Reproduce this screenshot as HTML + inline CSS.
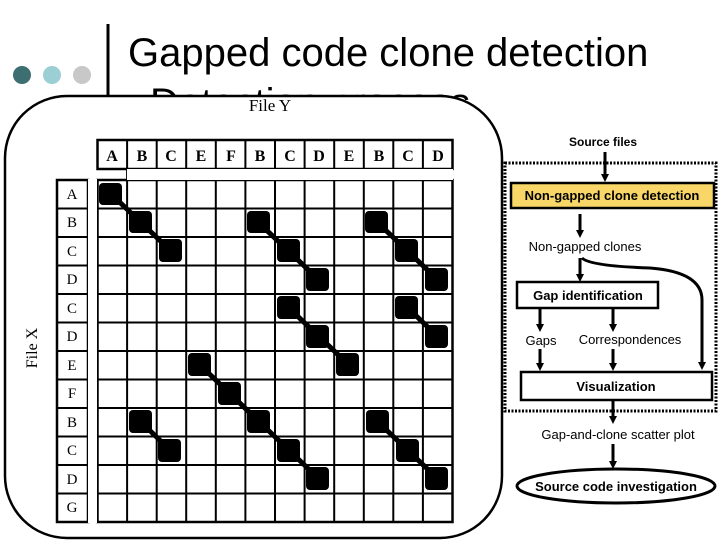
<!DOCTYPE html>
<html><head><meta charset="utf-8"><style>
html,body{margin:0;padding:0;background:#fff;}
svg{display:block;}
</style></head><body>
<svg width="720" height="540" viewBox="0 0 720 540" xmlns="http://www.w3.org/2000/svg">
<defs>
<marker id="ah" markerWidth="8" markerHeight="8" refX="4" refY="4" orient="auto" markerUnits="userSpaceOnUse">
<path d="M0,0 L8,4 L0,8 z" fill="#000"/>
</marker>
</defs>
<rect width="720" height="540" fill="#fff"/>
<circle cx="22" cy="75" r="9" fill="#3d6e72"/>
<circle cx="52" cy="75" r="9" fill="#9ccfd3"/>
<circle cx="82" cy="75" r="9" fill="#c8c8c8"/>
<line x1="108" y1="24" x2="108" y2="530" stroke="#000" stroke-width="3"/>
<text x="128" y="66" font-family="Liberation Sans, sans-serif" font-size="40">Gapped code clone detection</text>
<text x="150" y="116" font-family="Liberation Sans, sans-serif" font-size="40">Detection process</text>
<rect x="5" y="96" width="497" height="442" rx="62" ry="62" fill="#fff" stroke="#000" stroke-width="2.5"/>
<text x="270" y="111" text-anchor="middle" font-family="Liberation Serif, serif" font-size="17">File Y</text>
<text transform="translate(37,348) rotate(-90)" text-anchor="middle" font-family="Liberation Serif, serif" font-size="16">File X</text>
<g id="grid" stroke="#000" fill="none">
<rect x="97.5" y="140" width="355" height="29" stroke-width="2.5" fill="#fff"/>
<rect x="57" y="180" width="31" height="342" stroke-width="2.5" fill="#fff"/>
<rect x="97.5" y="180" width="355" height="342" stroke-width="2.5" fill="#fff"/>
</g>
<g stroke="#000" stroke-width="2">
<line x1="127.1" y1="140" x2="127.1" y2="522"/><line x1="156.7" y1="140" x2="156.7" y2="522"/>
<line x1="186.2" y1="140" x2="186.2" y2="522"/><line x1="215.8" y1="140" x2="215.8" y2="522"/>
<line x1="245.4" y1="140" x2="245.4" y2="522"/><line x1="275" y1="140" x2="275" y2="522"/>
<line x1="304.6" y1="140" x2="304.6" y2="522"/><line x1="334.2" y1="140" x2="334.2" y2="522"/>
<line x1="363.8" y1="140" x2="363.8" y2="522"/><line x1="393.3" y1="140" x2="393.3" y2="522"/>
<line x1="422.9" y1="140" x2="422.9" y2="522"/>
<rect x="127" y="169" width="326" height="11" fill="#fff" stroke="none"/>
<line x1="57" y1="208.5" x2="452.5" y2="208.5"/><line x1="57" y1="237" x2="452.5" y2="237"/>
<line x1="57" y1="265.5" x2="452.5" y2="265.5"/><line x1="57" y1="294" x2="452.5" y2="294"/>
<line x1="57" y1="322.5" x2="452.5" y2="322.5"/><line x1="57" y1="351" x2="452.5" y2="351"/>
<line x1="57" y1="379.5" x2="452.5" y2="379.5"/><line x1="57" y1="408" x2="452.5" y2="408"/>
<line x1="57" y1="436.5" x2="452.5" y2="436.5"/><line x1="57" y1="465" x2="452.5" y2="465"/>
<line x1="57" y1="493.5" x2="452.5" y2="493.5"/>
<rect x="88" y="179" width="9" height="344" fill="#fff" stroke="none"/>
</g>
<g font-family="Liberation Serif, serif" font-size="16" font-weight="bold" text-anchor="middle">
<text x="112" y="161">A</text><text x="142" y="161">B</text><text x="171" y="161">C</text><text x="201" y="161">E</text><text x="231" y="161">F</text><text x="260" y="161">B</text><text x="290" y="161">C</text><text x="319" y="161">D</text><text x="349" y="161">E</text><text x="379" y="161">B</text><text x="408" y="161">C</text><text x="438" y="161">D</text>
</g>
<g font-family="Liberation Serif, serif" font-size="15" text-anchor="middle">
<text x="72" y="199">A</text><text x="72" y="227">B</text><text x="72" y="256">C</text><text x="72" y="284">D</text><text x="72" y="313">C</text><text x="72" y="341">D</text><text x="72" y="370">E</text><text x="72" y="398">F</text><text x="72" y="427">B</text><text x="72" y="455">C</text><text x="72" y="484">D</text><text x="72" y="512">G</text>
</g>
<g stroke="#000" stroke-width="5" stroke-linecap="round">
<line x1="110" y1="193" x2="170" y2="250"/>
<line x1="258" y1="222" x2="318" y2="279"/>
<line x1="377" y1="222" x2="437" y2="279"/>
<line x1="288" y1="307" x2="348" y2="364"/>
<line x1="407" y1="307" x2="437" y2="336"/>
<line x1="199" y1="364" x2="318" y2="478"/>
<line x1="140" y1="421" x2="170" y2="450"/>
<line x1="377" y1="421" x2="437" y2="478"/>
</g>
<g fill="#000">
<rect x="99" y="183" width="23" height="22" rx="4"/>
<rect x="129" y="211" width="23" height="22" rx="4"/>
<rect x="159" y="239" width="23" height="23" rx="4"/>
<rect x="247" y="211" width="23" height="22" rx="4"/>
<rect x="277" y="239" width="23" height="23" rx="4"/>
<rect x="306" y="268" width="23" height="23" rx="4"/>
<rect x="365" y="211" width="23" height="22" rx="4"/>
<rect x="395" y="239" width="23" height="23" rx="4"/>
<rect x="425" y="268" width="23" height="23" rx="4"/>
<rect x="277" y="296" width="23" height="23" rx="4"/>
<rect x="306" y="325" width="23" height="23" rx="4"/>
<rect x="336" y="353" width="23" height="23" rx="4"/>
<rect x="395" y="296" width="23" height="23" rx="4"/>
<rect x="425" y="325" width="23" height="23" rx="4"/>
<rect x="188" y="353" width="23" height="23" rx="4"/>
<rect x="218" y="382" width="23" height="23" rx="4"/>
<rect x="247" y="410" width="23" height="23" rx="4"/>
<rect x="277" y="439" width="23" height="23" rx="4"/>
<rect x="306" y="467" width="23" height="23" rx="4"/>
<rect x="129" y="410" width="23" height="23" rx="4"/>
<rect x="158" y="439" width="23" height="23" rx="4"/>
<rect x="366" y="410" width="23" height="23" rx="4"/>
<rect x="396" y="439" width="23" height="23" rx="4"/>
<rect x="425" y="467" width="23" height="23" rx="4"/>
</g>
<!-- flow diagram -->
<rect x="505" y="163" width="211" height="248" fill="none" stroke="#000" stroke-width="3" stroke-dasharray="2,1.5"/>
<text x="603" y="146" text-anchor="middle" font-family="Liberation Sans, sans-serif" font-size="12" font-weight="bold">Source files</text>
<line x1="605" y1="152" x2="605" y2="178" stroke="#000" stroke-width="3" marker-end="url(#ah)"/>
<rect x="511" y="183" width="203" height="25" fill="#f8d768" stroke="#000" stroke-width="2.5"/>
<text x="612" y="200" text-anchor="middle" font-family="Liberation Sans, sans-serif" font-size="13" font-weight="bold">Non-gapped clone detection</text>
<line x1="580" y1="214" x2="580" y2="234" stroke="#000" stroke-width="3" marker-end="url(#ah)"/>
<text x="585" y="251" text-anchor="middle" font-family="Liberation Sans, sans-serif" font-size="13">Non-gapped clones</text>
<line x1="580" y1="258" x2="580" y2="278" stroke="#000" stroke-width="3" marker-end="url(#ah)"/>
<path d="M582,258 Q590,266 650,268 Q702,272 702,300 L702,366" fill="none" stroke="#000" stroke-width="3" marker-end="url(#ah)"/>
<rect x="517" y="282" width="141" height="26" fill="#fff" stroke="#000" stroke-width="2.5"/>
<text x="588" y="300" text-anchor="middle" font-family="Liberation Sans, sans-serif" font-size="13" font-weight="bold">Gap identification</text>
<line x1="540" y1="309" x2="540" y2="328" stroke="#000" stroke-width="3" marker-end="url(#ah)"/>
<line x1="613" y1="309" x2="613" y2="328" stroke="#000" stroke-width="3" marker-end="url(#ah)"/>
<text x="541" y="345" text-anchor="middle" font-family="Liberation Sans, sans-serif" font-size="13">Gaps</text>
<text x="630" y="344" text-anchor="middle" font-family="Liberation Sans, sans-serif" font-size="13">Correspondences</text>
<line x1="540" y1="349" x2="540" y2="367" stroke="#000" stroke-width="3" marker-end="url(#ah)"/>
<line x1="613" y1="349" x2="613" y2="367" stroke="#000" stroke-width="3" marker-end="url(#ah)"/>
<rect x="521" y="372" width="191" height="28" fill="#fff" stroke="#000" stroke-width="2.5"/>
<text x="616" y="391" text-anchor="middle" font-family="Liberation Sans, sans-serif" font-size="13" font-weight="bold">Visualization</text>
<line x1="613" y1="401" x2="613" y2="420" stroke="#000" stroke-width="3" marker-end="url(#ah)"/>
<text x="618" y="439" text-anchor="middle" font-family="Liberation Sans, sans-serif" font-size="13">Gap-and-clone scatter plot</text>
<line x1="613" y1="444" x2="613" y2="465" stroke="#000" stroke-width="3" marker-end="url(#ah)"/>
<ellipse cx="616" cy="486" rx="99" ry="17" fill="#fff" stroke="#000" stroke-width="3"/>
<text x="616" y="491" text-anchor="middle" font-family="Liberation Sans, sans-serif" font-size="13" font-weight="bold">Source code investigation</text>
</svg>
</body></html>
